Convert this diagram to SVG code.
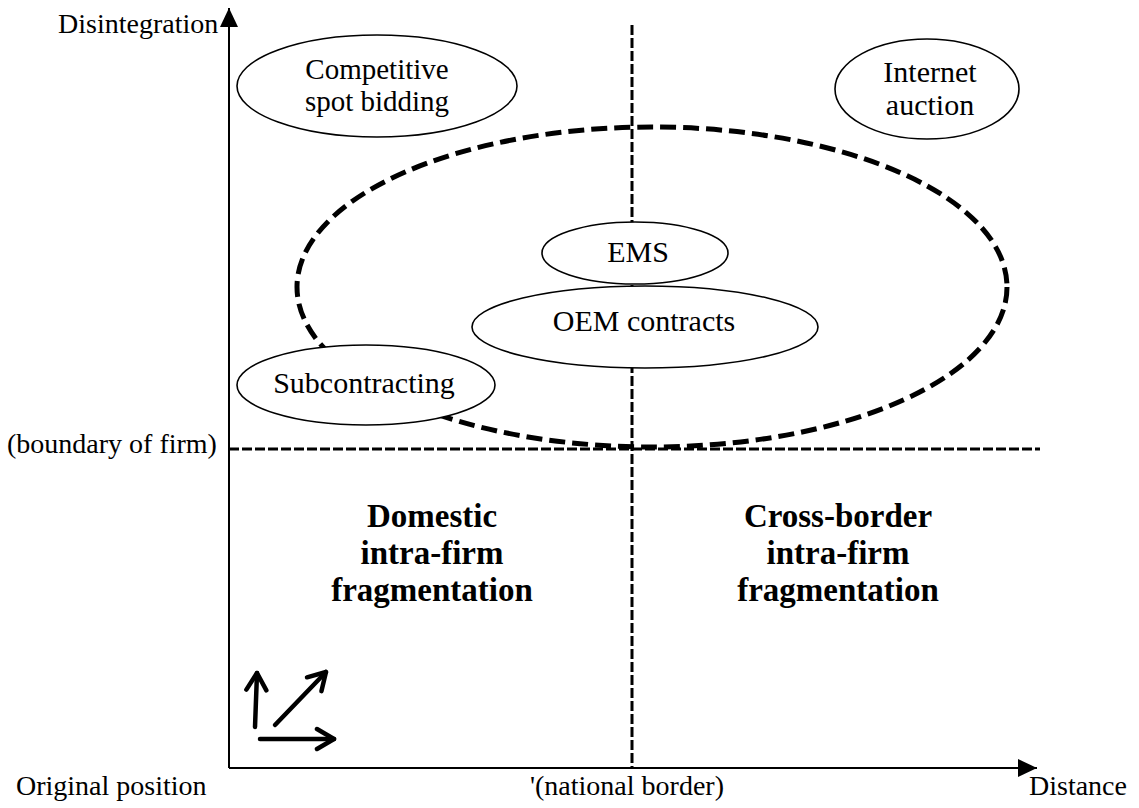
<svg xmlns="http://www.w3.org/2000/svg" width="1139" height="808" viewBox="0 0 1139 808">
<defs>
<style>
text{font-family:"Liberation Serif","Times New Roman",serif;fill:#000}
.ax{font-size:28px}
.lb{font-size:30px;text-anchor:middle}
.sm{font-size:29px}
.bd{font-size:33px;font-weight:bold;text-anchor:middle}
.node{fill:#fff;stroke:#000;stroke-width:1.6}
.axis{stroke:#000;stroke-width:2;fill:none}
.guide{stroke:#000;stroke-width:3;stroke-dasharray:10 3;fill:none}
.big{fill:none;stroke:#000;stroke-width:5;stroke-dasharray:16 7}
.ic{stroke:#000;stroke-width:4.5;stroke-linecap:round;fill:none}
</style>
<marker id="tri" viewBox="0 0 19 18" refX="19" refY="9" markerWidth="19" markerHeight="18" markerUnits="userSpaceOnUse" orient="auto"><path d="M0,0 L19,9 L0,18 z" fill="#000"/></marker>
<marker id="chev" viewBox="0 0 24 26" refX="20" refY="13" markerWidth="24" markerHeight="26" markerUnits="userSpaceOnUse" orient="auto"><path d="M3,3 L20,13 L3,23" fill="none" stroke="#000" stroke-width="4.5" stroke-linecap="round" stroke-linejoin="round"/></marker>
</defs>
<rect width="1139" height="808" fill="#fff"/>
<g id="connectors">
<line class="axis" x1="229" y1="768" x2="229" y2="8" marker-end="url(#tri)"/>
<line class="axis" x1="229" y1="768" x2="1037" y2="768" marker-end="url(#tri)"/>
<line class="guide" x1="229" y1="449" x2="1040" y2="449"/>
<line class="guide" x1="632" y1="25" x2="632" y2="768"/>
</g>
<g id="firm-region"><ellipse class="big" cx="652" cy="287" rx="355" ry="160"/></g>
<g id="competitive"><ellipse class="node" cx="377" cy="86" rx="140" ry="51"/><text class="lb sm" x="377" y="79">Competitive</text><text class="lb sm" x="377" y="111">spot bidding</text></g>
<g id="internet"><ellipse class="node" cx="927" cy="89" rx="92" ry="50"/><text class="lb" x="930" y="82">Internet</text><text class="lb" x="930" y="115">auction</text></g>
<g id="ems"><ellipse class="node" cx="635" cy="253" rx="93" ry="31"/><text class="lb" x="638" y="262">EMS</text></g>
<g id="oem"><ellipse class="node" cx="645" cy="327" rx="173" ry="41"/><text class="lb" x="644" y="331">OEM contracts</text></g>
<g id="subcontracting"><ellipse class="node" cx="366" cy="385" rx="129" ry="40"/><text class="lb" x="364" y="393">Subcontracting</text></g>
<g id="domestic"><text class="bd" x="432" y="527">Domestic</text><text class="bd" x="432" y="564">intra-firm</text><text class="bd" x="432" y="601">fragmentation</text></g>
<g id="crossborder"><text class="bd" x="838" y="527">Cross-border</text><text class="bd" x="838" y="564">intra-firm</text><text class="bd" x="838" y="601">fragmentation</text></g>
<g id="labels">
<text class="ax" x="58" y="33">Disintegration</text>
<text class="ax" x="7" y="453">(boundary of firm)</text>
<text class="ax" x="16" y="795">Original position</text>
<text class="ax" x="530" y="795">'(national border)</text>
<text class="ax" x="1029" y="795">Distance</text>
</g>
<g id="direction-arrows">
<line class="ic" x1="255" y1="727" x2="257" y2="673" marker-end="url(#chev)"/>
<line class="ic" x1="275" y1="725" x2="326" y2="672" marker-end="url(#chev)"/>
<line class="ic" x1="260" y1="739" x2="334" y2="739" marker-end="url(#chev)"/>
</g>
</svg>
